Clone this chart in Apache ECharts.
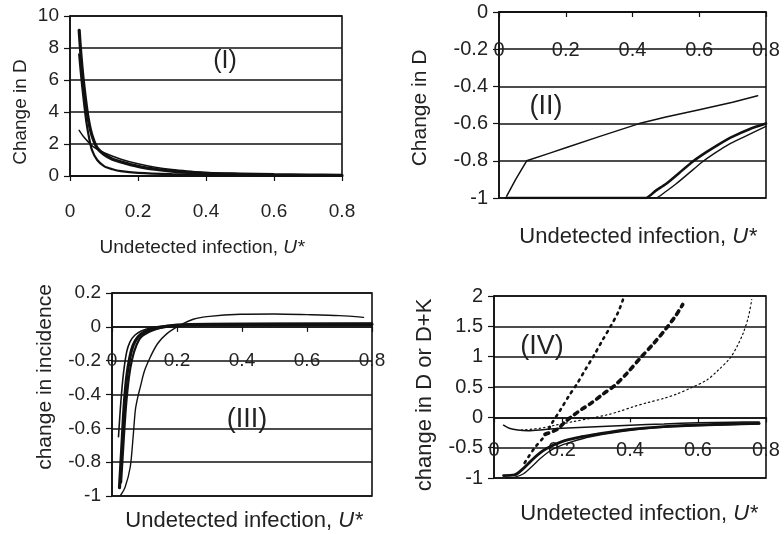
<!DOCTYPE html>
<html>
<head>
<meta charset="utf-8">
<script src="https://cdn.jsdelivr.net/npm/echarts@6/dist/echarts.min.js"></script>
<style>
html,body{margin:0;padding:0;background:#fff}
#main{width:784px;height:534px}
</style>
</head>
<body>
<div id="main"></div>
<script>
// x axis ticks shared by all four panels
var xTicks = [0, 0.2, 0.4, 0.6, 0.8];

// panel (I) change in D
var p1Thick = [[0.027,9.1],[0.032,7.6],[0.038,6.2],[0.045,4.9],[0.052,3.8],[0.06,2.9],[0.07,2.2],[0.08,1.75],[0.1,1.35],[0.125,1.05],[0.15,0.88],[0.2,0.6],[0.25,0.42],[0.3,0.3],[0.35,0.23],[0.4,0.17],[0.5,0.12],[0.6,0.08],[0.7,0.06],[0.8,0.04]];
var p1Fast = [[0.027,7.6],[0.033,6.2],[0.04,4.8],[0.048,3.4],[0.056,2.4],[0.065,1.6],[0.08,1.0],[0.1,0.62],[0.125,0.42],[0.15,0.3],[0.2,0.2],[0.3,0.12],[0.4,0.08],[0.6,0.05],[0.8,0.03]];
var p1Thin = [[0.027,2.85],[0.04,2.45],[0.055,2.1],[0.07,1.8],[0.1,1.45],[0.15,1.05],[0.2,0.76],[0.25,0.55],[0.3,0.4],[0.35,0.3],[0.4,0.22],[0.5,0.14],[0.6,0.1],[0.7,0.07],[0.8,0.05]];

// panel (II) change in D
var p2Upper = [[0.023,-0.99],[0.05,-0.9],[0.083,-0.8],[0.15,-0.76],[0.2,-0.73],[0.3,-0.67],[0.42,-0.6],[0.5,-0.565],[0.6,-0.525],[0.7,-0.485],[0.775,-0.45]];
var p2Thick = [[0.02,-1],[0.44,-1],[0.47,-0.96],[0.5,-0.925],[0.54,-0.865],[0.58,-0.805],[0.62,-0.755],[0.66,-0.71],[0.7,-0.67],[0.75,-0.63],[0.8,-0.6]];
var p2Thin = [[0.02,-1],[0.47,-1],[0.5,-0.965],[0.53,-0.925],[0.57,-0.865],[0.61,-0.805],[0.65,-0.755],[0.69,-0.71],[0.73,-0.675],[0.77,-0.64],[0.8,-0.615]];

// panel (III) change in incidence
var p3Right = [[0.025,-1.0],[0.04,-0.95],[0.056,-0.83],[0.065,-0.65],[0.072,-0.49],[0.08,-0.41],[0.087,-0.356],[0.1,-0.26],[0.118,-0.178],[0.14,-0.1],[0.169,-0.04],[0.21,0.01],[0.25,0.045],[0.3,0.062],[0.395,0.074],[0.5,0.076],[0.6,0.072],[0.7,0.066],[0.774,0.056]];
var p3Thick = [[0.023,-0.95],[0.03,-0.72],[0.037,-0.48],[0.045,-0.3],[0.055,-0.18],[0.065,-0.11],[0.08,-0.06],[0.1,-0.03],[0.13,-0.01],[0.2,0.01],[0.3,0.015],[0.5,0.015],[0.8,0.015]];
var p3Left = [[0.02,-0.65],[0.027,-0.45],[0.035,-0.28],[0.045,-0.15],[0.055,-0.09],[0.07,-0.05],[0.09,-0.025],[0.12,-0.005],[0.2,0.01],[0.8,0.01]];
var p3Mid = [[0.028,-0.92],[0.035,-0.7],[0.043,-0.47],[0.052,-0.3],[0.062,-0.19],[0.075,-0.11],[0.09,-0.06],[0.12,-0.025],[0.16,0.0],[0.25,0.015],[0.8,0.02]];

// panel (IV) change in D or D+K
var p4Dot = [[0.09,-0.75],[0.12,-0.5],[0.15,-0.3],[0.17,-0.1],[0.195,0.12],[0.22,0.35],[0.245,0.56],[0.27,0.8],[0.295,1.03],[0.32,1.28],[0.345,1.52],[0.365,1.73],[0.38,1.95]];
var p4Dash = [[0.15,-0.28],[0.185,-0.2],[0.21,-0.07],[0.235,0.04],[0.26,0.14],[0.285,0.23],[0.32,0.38],[0.356,0.53],[0.39,0.72],[0.43,0.975],[0.47,1.22],[0.507,1.47],[0.535,1.68],[0.555,1.86]];
var p4Fine = [[0.08,-0.21],[0.136,-0.18],[0.18,-0.13],[0.234,-0.07],[0.28,-0.02],[0.332,0.04],[0.37,0.1],[0.41,0.175],[0.45,0.24],[0.498,0.31],[0.54,0.39],[0.577,0.48],[0.626,0.615],[0.66,0.78],[0.694,0.975],[0.715,1.17],[0.733,1.39],[0.748,1.65],[0.758,1.94]];
var p4Upper = [[0.028,-0.13],[0.045,-0.18],[0.07,-0.21],[0.1,-0.22],[0.15,-0.2],[0.2,-0.18],[0.3,-0.155],[0.4,-0.13],[0.5,-0.11],[0.6,-0.09],[0.7,-0.08],[0.78,-0.075]];
var p4Thick = [[0.028,-0.96],[0.06,-0.95],[0.085,-0.85],[0.107,-0.73],[0.13,-0.61],[0.156,-0.51],[0.2,-0.4],[0.25,-0.33],[0.3,-0.28],[0.38,-0.21],[0.48,-0.16],[0.58,-0.13],[0.68,-0.11],[0.78,-0.1]];
var p4Thin = [[0.035,-1],[0.06,-0.99],[0.087,-0.93],[0.11,-0.82],[0.136,-0.68],[0.16,-0.57],[0.185,-0.49],[0.23,-0.4],[0.283,-0.32],[0.38,-0.23],[0.48,-0.17],[0.6,-0.14],[0.78,-0.11]];

var font = 'Liberation Sans, Arial, sans-serif';
var ink = '#111';

var grids = [
    {left:70, top:16, width:272, height:160},
    {left:499, top:12, width:267, height:186},
    {left:112, top:293, width:260, height:203},
    {left:494, top:296, width:272, height:182}
];
var yRanges = [[0,10,2],[-1,0,0.2],[-1,0.2,0.2],[-1,2,0.5]];
// labels sit below the zero line, Excel style; margins counted from grid bottom
var xMargins = [26, -158, -145, -38];
var labelSizes = [19, 20, 19, 20];

var xAxes = [], yAxes = [];
for (var i = 0; i < 4; i++) {
    grids[i].show = true;
    grids[i].borderColor = ink;
    grids[i].borderWidth = 1.6;
    xAxes.push({
        gridIndex: i, type: 'value', min: 0, max: 0.8, interval: 0.2,
        axisLine: {onZero: true, lineStyle: {color: ink, width: 1.6}},
        axisTick: {show: true, length: 5, lineStyle: {color: ink, width: 1.2}},
        axisLabel: {margin: xMargins[i], fontSize: labelSizes[i], color: '#222', fontFamily: font},
        splitLine: {show: false}
    });
    yAxes.push({
        gridIndex: i, type: 'value', min: yRanges[i][0], max: yRanges[i][1], interval: yRanges[i][2],
        axisLine: {onZero: false, lineStyle: {color: ink, width: 1.6}},
        axisTick: {show: true, length: 6, lineStyle: {color: ink, width: 1.2}},
        axisLabel: {margin: 11, fontSize: labelSizes[i], color: '#222', fontFamily: font},
        splitLine: {show: true, lineStyle: {color: ink, width: 1.6}}
    });
}

function line(idx, data, width, type, smooth) {
    return {
        type: 'line', xAxisIndex: idx, yAxisIndex: idx, data: data,
        showSymbol: false, smooth: smooth === undefined ? 0.3 : smooth,
        lineStyle: {color: ink, width: width, type: type || 'solid', cap: 'round'},
        clip: true, silent: true, z: 5
    };
}

var series = [
    line(0, p1Thick, 3.2),
    line(0, p1Fast, 2.2),
    line(0, p1Thin, 1.5),
    line(1, p2Upper, 1.5, 'solid', false),
    line(1, p2Thick, 2.6, 'solid', 0.2),
    line(1, p2Thin, 1.4, 'solid', 0.2),
    line(2, p3Right, 1.4),
    line(2, p3Thick, 3.2),
    line(2, p3Left, 1.6),
    line(2, p3Mid, 2.2),
    line(3, p4Dot, 2.6, [2, 5]),
    line(3, p4Dash, 3.6, [4, 5]),
    line(3, p4Fine, 1.2, [1.5, 3]),
    line(3, p4Upper, 1.5),
    line(3, p4Thick, 2.8),
    line(3, p4Thin, 1.3)
];

function txt(x, y, s, size, rot) {
    return {
        type: 'text', x: x, y: y, rotation: rot || 0, z: 10,
        style: {
            text: s, fill: '#222', font: size + 'px ' + font,
            textAlign: 'center', textVerticalAlign: 'middle',
            rich: {
                n: {fontSize: size, fontFamily: font, fill: '#222'},
                u: {fontSize: size, fontFamily: font, fontStyle: 'italic', fill: '#222'}
            }
        }
    };
}

var xTitle = '{n|Undetected infection, }{u|U*}';
var graphics = [
    txt(202, 248, xTitle, 19),
    txt(638, 237, xTitle, 22),
    txt(244, 521, xTitle, 22),
    txt(639, 514, xTitle, 22),
    txt(21, 112, 'Change in D', 19, Math.PI / 2),
    txt(420, 108, 'Change in D', 21, Math.PI / 2),
    txt(45, 377, 'change in incidence', 21, Math.PI / 2),
    txt(425, 395, 'change in D or D+K', 22, Math.PI / 2),
    txt(225, 61, '(I)', 25),
    txt(546, 107, '(II)', 27),
    txt(247, 420, '(III)', 27),
    txt(542, 347, '(IV)', 27)
];

var chart = echarts.init(document.getElementById('main'));
chart.setOption({
    backgroundColor: '#fff',
    animation: false,
    textStyle: {fontFamily: font},
    grid: grids,
    xAxis: xAxes,
    yAxis: yAxes,
    series: series,
    graphic: graphics
});
</script>
</body>
</html>
